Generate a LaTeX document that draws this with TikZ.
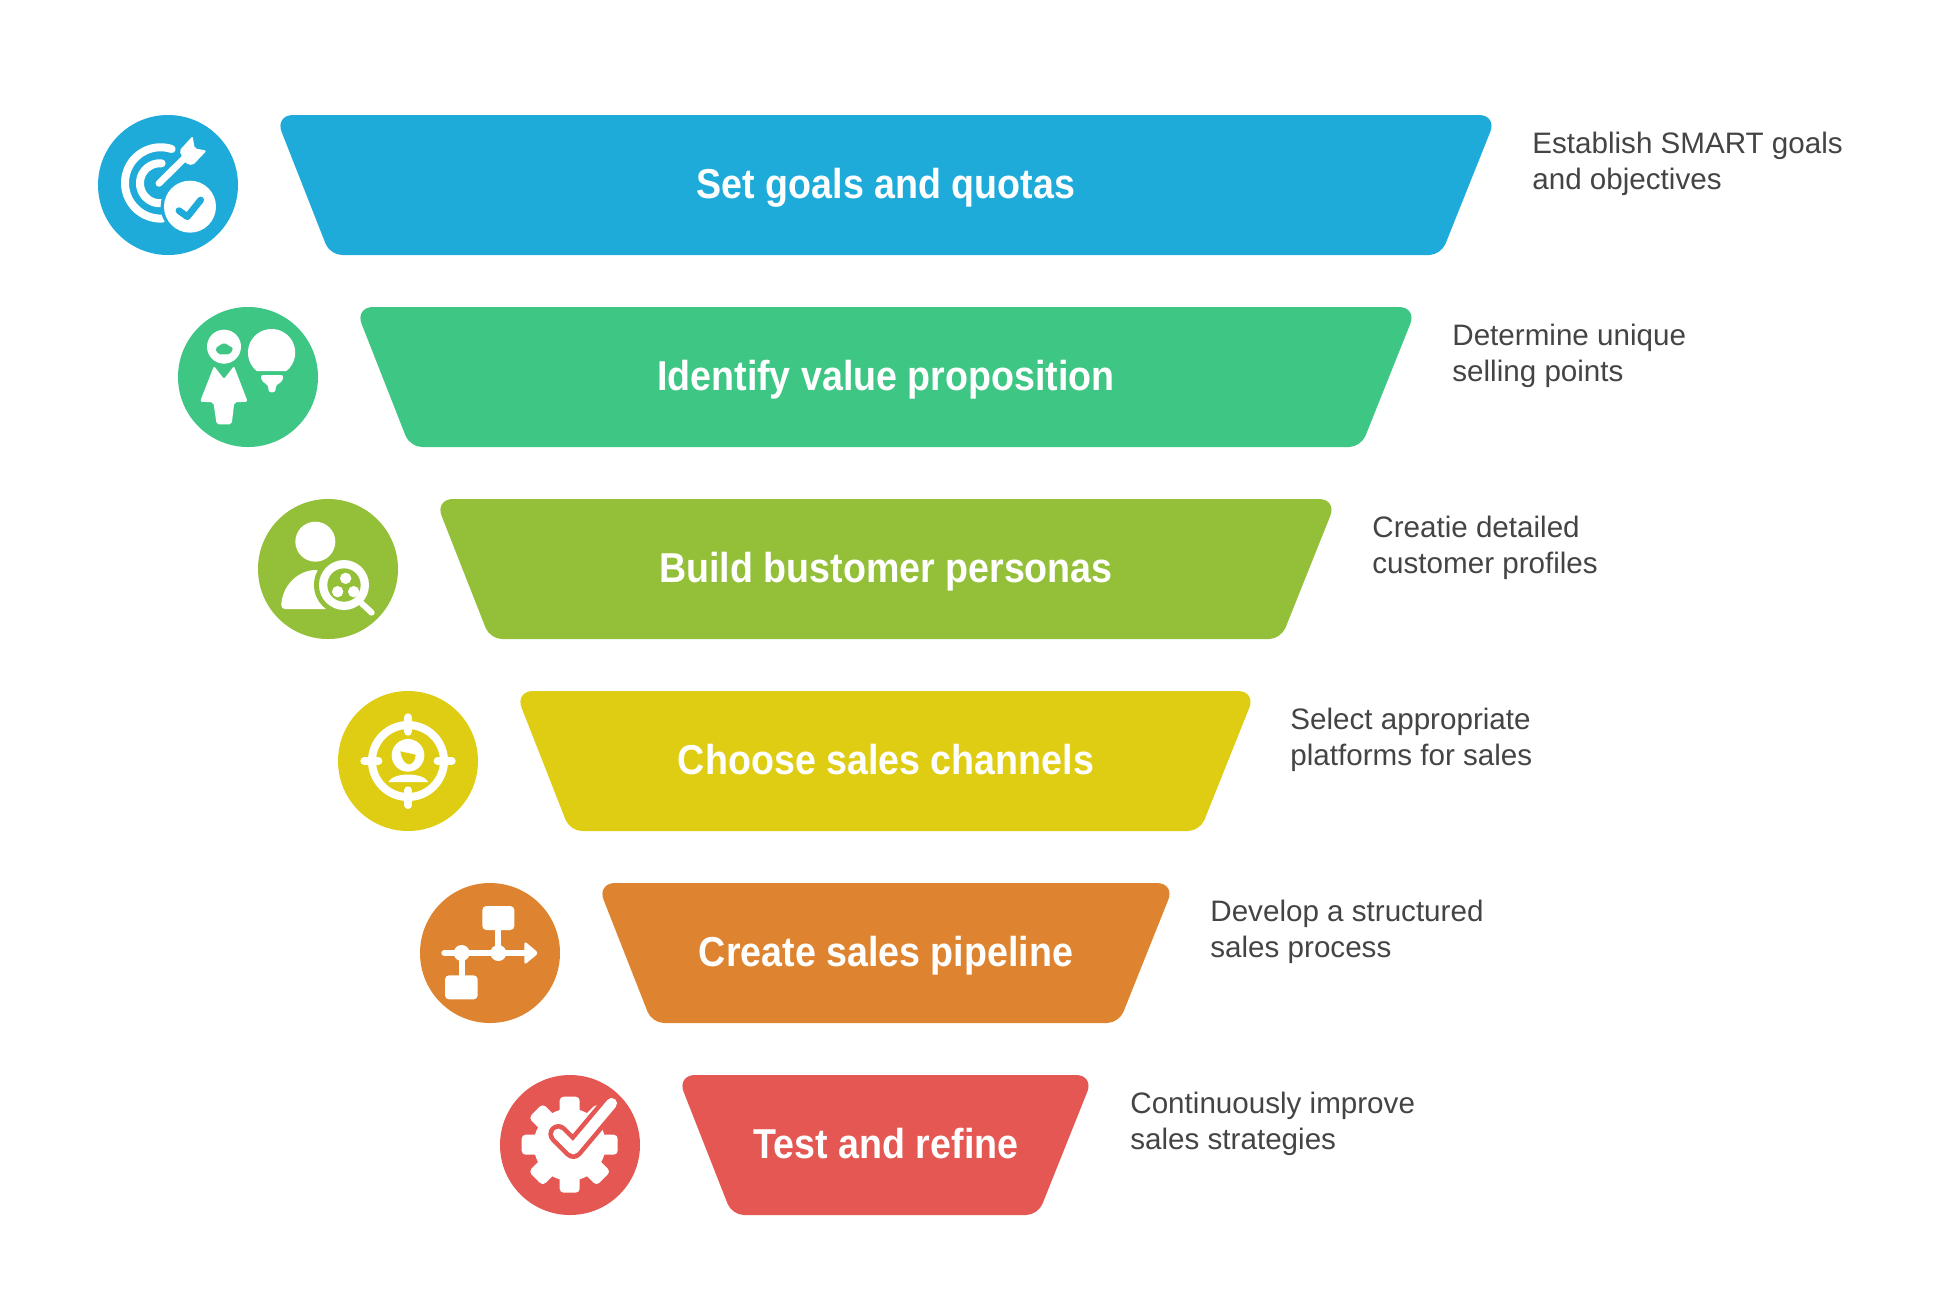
\documentclass[tikz,border=0pt]{standalone}
\usepackage{fontspec}
\setmainfont{Liberation Sans}
\newfontfamily\headfont[FakeStretch=0.9]{Liberation Sans}
\usepackage{tikz}
\definecolor{goalblue}{HTML}{1EABDA}
\definecolor{valuegreen}{HTML}{3EC685}
\definecolor{personaolive}{HTML}{93BF39}
\definecolor{channelyellow}{HTML}{DFCD13}
\definecolor{pipeorange}{HTML}{DE8431}
\definecolor{refinered}{HTML}{E55753}
\definecolor{notegray}{HTML}{444444}

\begin{document}
\begin{tikzpicture}[x=0.5pt,y=-0.5pt,
    topround/.style={rounded corners=9pt},
    lowround/.style={rounded corners=6pt},
    steptitle/.style={anchor=base,inner sep=0pt,text=white,font=\headfont\bfseries\fontsize{20.9}{24}\selectfont},
    stepnote/.style={anchor=west,align=left,inner sep=0pt,text=notegray,font=\fontsize{14.8}{18}\selectfont},
    iconline/.style={white,line cap=round,line join=round}
]
\useasboundingbox (0,0) rectangle (1960,1303);

% Funnel bands
\fill[goalblue] [topround] (275,115) -- (1497,115) [lowround] -- (1441,255) -- (330,255) [topround] -- cycle;
\fill[valuegreen] [topround] (355,307) -- (1417,307) [lowround] -- (1361,447) -- (410,447) [topround] -- cycle;
\fill[personaolive] [topround] (435,499) -- (1337,499) [lowround] -- (1281,639) -- (490,639) [topround] -- cycle;
\fill[channelyellow] [topround] (515,691) -- (1256,691) [lowround] -- (1200,831) -- (570,831) [topround] -- cycle;
\fill[pipeorange] [topround] (597,883) -- (1175,883) [lowround] -- (1119,1023) -- (652,1023) [topround] -- cycle;
\fill[refinered] [topround] (677,1075) -- (1094,1075) [lowround] -- (1038,1215) -- (732,1215) [topround] -- cycle;

% Band titles
\node[steptitle] (goals) at (886,198.5) {Set goals and quotas};
\node[steptitle] (value) at (886,390.5) {Identify value proposition};
\node[steptitle] (personas) at (886,582.5) {Build bustomer personas};
\node[steptitle] (channels) at (886,774.5) {Choose sales channels};
\node[steptitle] (pipeline) at (886,966.5) {Create sales pipeline};
\node[steptitle] (refine) at (886,1158.5) {Test and refine};

% Notes on the right
\node[stepnote] (goalsnote) at (1532,163.5) {Establish SMART goals\\and objectives};
\node[stepnote] (valuenote) at (1452,355.5) {Determine unique\\selling points};
\node[stepnote] (personasnote) at (1372,547.5) {Creatie detailed\\customer profiles};
\node[stepnote] (channelsnote) at (1290,739.5) {Select appropriate\\platforms for sales};
\node[stepnote] (pipelinenote) at (1210,931.5) {Develop a structured\\sales process};
\node[stepnote] (refinenote) at (1130,1123.5) {Continuously improve\\sales strategies};

% Target icon
\fill[goalblue] (168,185) circle (70);
\begin{scope}[shift={(80,100)},scale=1/3]
\draw[iconline,line width=4pt] (275,147) arc (288:87:107);
\draw[iconline,line width=4pt] (245,190) arc (275:85:60);
\draw[iconline,line width=3.4pt] (237,250) -- (312,176);
\fill[white,rounded corners=1pt] (298,152) -- (338,108) -- (344,145) -- (380,152) -- (338,196) -- (316,190) -- cycle;
\fill[goalblue] (330,320) circle (88);
\fill[white] (330,320) circle (78);
\draw[goalblue,line width=3.4pt,line cap=round,line join=round] (297,332) -- (322,350) -- (362,300);
\end{scope}

% Person and bulb icon
\fill[valuegreen] (248,377) circle (70);
\begin{scope}[shift={(165,295)},scale=1/3]
\fill[white] (177,155) circle (51);
\fill[valuegreen,rounded corners=1pt] (150,160) -- (177,143) -- (205,160) -- (195,178) -- (160,178) -- cycle;
\fill[white,rounded corners=1pt] (147,213) -- (177,252) -- (207,213) -- (248,320) -- (208,322) -- (200,388) -- (155,388) -- (145,322) -- (105,320) -- cycle;
\fill[white] (275,228) arc (129:411:71) -- cycle;
\fill[white,rounded corners=1.5pt] (285,240) -- (357,240) -- (350,262) -- (332,270) -- (332,292) -- (310,292) -- (310,270) -- (293,262) -- cycle;
\end{scope}

% Persona search icon
\fill[personaolive] (328,569) circle (70);
\begin{scope}[shift={(245,490)},scale=1/3]
\fill[white] (211,155) circle (60);
\fill[white,rounded corners=2pt] (108,357) .. controls (112,285) and (160,240) .. (225,240) -- (260,357) -- cycle;
\fill[personaolive] (297,285) circle (90);
\fill[white] (297,285) circle (75);
\fill[personaolive] (297,285) circle (50);
\fill[white] (302,265) circle (17);
\fill[white] (278,305) circle (17);
\fill[white] (326,305) circle (17);
\draw[iconline,line width=3pt] (350,340) -- (380,368);
\end{scope}

% Crosshair icon
\fill[channelyellow] (408,761) circle (70);
\begin{scope}[shift={(325,680)},scale=1/3]
\draw[white,line width=4pt] (249,243) circle (108);
\draw[iconline,line width=4pt] (249,112) -- (249,155);
\draw[iconline,line width=4pt] (249,331) -- (249,375);
\draw[iconline,line width=4pt] (118,243) -- (160,243);
\draw[iconline,line width=4pt] (338,243) -- (380,243);
\fill[white] (249,226) circle (49);
\fill[channelyellow] (226,214) -- (272,224) .. controls (270,262) and (234,266) .. (226,214) -- cycle;
\fill[white] (190,306) .. controls (205,276) and (295,276) .. (310,306) -- cycle;
\end{scope}

% Flow icon
\fill[pipeorange] (490,953) circle (70);
\begin{scope}[shift={(405,870)},scale=1/3]
\fill[white,rounded corners=2pt] (232,108) rectangle (328,180);
\fill[white,rounded corners=2pt] (120,316) rectangle (218,388);
\draw[iconline,line width=3pt] (118,249) -- (370,249);
\draw[iconline,line width=3pt] (280,175) -- (280,249);
\draw[iconline,line width=3pt] (170,249) -- (170,320);
\fill[white] (170,249) circle (24);
\fill[white] (280,249) circle (24);
\fill[white,rounded corners=1.5pt] (358,213) -- (401,249) -- (358,285) -- cycle;
\end{scope}

% Gear icon
\fill[refinered] (570,1145) circle (70);
\begin{scope}[shift={(485,1065)},scale=1/3]
\fill[white] (254,239) circle (108);
\foreach \toothangle in {0,45,...,315} {
    \fill[white,rounded corners=2pt,rotate around={\toothangle:(254,239)}] (224,95) rectangle (284,180);
}
\draw[refinered,line width=10pt,line cap=round,line join=round] (220,207) -- (265,252) -- (380,115);
\draw[iconline,line width=5.4pt] (220,207) -- (265,252) -- (380,115);
\end{scope}

\end{tikzpicture}
\end{document}
